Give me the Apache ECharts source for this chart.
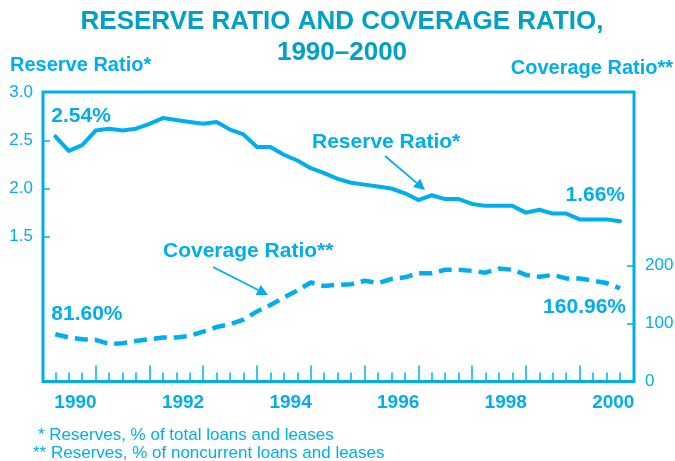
<!DOCTYPE html>
<html>
<head>
<meta charset="utf-8">
<script src="https://cdn.jsdelivr.net/npm/echarts@6/dist/echarts.min.js"></script>
<style>
html,body{margin:0;padding:0;background:#fff;}
#chart{width:675px;height:461px;}
</style>
</head>
<body>
<div id="chart"></div>
<script>
// ---- data ----
const years = ['1990','1991','1992','1993','1994','1995','1996','1997','1998','1999','2000'];
const quarters = [];
years.forEach(function (y) { ['Q1','Q2','Q3','Q4'].forEach(function (q) { quarters.push(y + ' ' + q); }); });
// Reserve ratio (%), quarterly, 1990 Q1 .. 2000 Q3
const reserveRatio = [2.54, 2.39, 2.45, 2.60, 2.62, 2.60, 2.62, 2.67, 2.73, 2.71, 2.69, 2.67,
  2.69, 2.61, 2.56, 2.43, 2.43, 2.35, 2.29, 2.21, 2.16, 2.10, 2.06, 2.04, 2.02, 2.00, 1.95,
  1.88, 1.93, 1.89, 1.89, 1.84, 1.82, 1.82, 1.82, 1.75, 1.78, 1.74, 1.74, 1.68, 1.68, 1.68, 1.66];
// Coverage ratio (%), quarterly
const coverageRatio = [81.60, 76, 73, 72, 65, 66, 70, 73, 76, 76, 79, 86,
  94, 99, 107, 121, 132, 145, 157, 171, 165, 167, 168, 174, 170, 177, 180,
  187, 187, 193, 193, 191, 188, 195, 193, 184, 181, 184, 178, 178, 174, 170, 160.96];
const leftTickLabels = ['1.5', '2.0', '2.5', '3.0'];
const rightTickLabels = ['0', '100', '200'];

const BLUE = '#00AEEF';
const TITLE = '#00A0C8';
const FONT = '"Liberation Sans", Arial, Helvetica, sans-serif';

const chart = echarts.init(document.getElementById('chart'), null, { renderer: 'canvas' });

const lastTick = reserveRatio.length - 1;
const G = { top: 92, height: 289.5 };

const option = {
  animation: false,
  backgroundColor: '#fff',
  grid: [
    { left: 48.58, top: G.top, width: 591.6, height: G.height, outerBoundsMode: 'none' },
    { left: 43, top: G.top, width: 591, height: G.height, show: true, borderColor: BLUE, borderWidth: 3, backgroundColor: 'transparent', outerBoundsMode: 'none' },
    { left: 43, top: G.top, width: 591, height: G.height / 2, outerBoundsMode: 'none' },
    { left: 43, top: 381.5 - G.height * 200 / 500, width: 591, height: G.height * 200 / 500, outerBoundsMode: 'none' }
  ],
  xAxis: [
    { gridIndex: 0, type: 'category', data: quarters, boundaryGap: true, position: 'bottom', offset: 0,
      axisLine: { show: false, onZero: false }, axisLabel: { show: false },
      axisTick: { show: true, inside: true, length: 9, alignWithLabel: true,
        interval: function (i) { return i <= lastTick; },
        lineStyle: { color: BLUE, width: 1.5 } } },
    { gridIndex: 0, type: 'category', data: quarters, boundaryGap: true, position: 'bottom', offset: 0,
      axisLine: { show: false, onZero: false }, axisLabel: { show: false },
      axisTick: { show: true, inside: true, length: 16, alignWithLabel: true,
        interval: function (i) { return i % 4 === 3 && i < 40; },
        lineStyle: { color: BLUE, width: 1.5 } } },
    { gridIndex: 0, type: 'category', data: years, boundaryGap: true, position: 'bottom', offset: 0,
      axisLine: { show: false, onZero: false }, axisTick: { show: false },
      axisLabel: { show: true, interval: 1, margin: 12, color: BLUE, fontSize: 19, fontWeight: 'bold', fontFamily: FONT } },
    { gridIndex: 1, type: 'value', show: false, min: 0, max: 1 },
    { gridIndex: 2, type: 'value', show: false, min: 0, max: 1 },
    { gridIndex: 3, type: 'value', show: false, min: 0, max: 1 }
  ],
  yAxis: [
    { gridIndex: 0, type: 'value', min: 0, max: 3, show: false, axisLine: { onZero: false } },
    { gridIndex: 0, type: 'value', min: 0, max: 500, show: false, position: 'right', axisLine: { onZero: false } },
    { gridIndex: 1, type: 'value', show: false, min: 0, max: 1, axisLine: { onZero: false } },
    { gridIndex: 2, type: 'value', min: 1.5, max: 3.0, interval: 0.5, position: 'left', offset: 0,
      axisLine: { show: false, onZero: false }, splitLine: { show: false },
      axisTick: { show: true, inside: true, length: 7, lineStyle: { color: BLUE, width: 1.5 } },
      axisLabel: { margin: 10, color: BLUE, fontSize: 17, fontFamily: FONT,
        formatter: function (v) { return leftTickLabels[Math.round((v - 1.5) / 0.5)] || ''; } } },
    { gridIndex: 3, type: 'value', min: 0, max: 200, interval: 100, position: 'right', offset: 0,
      axisLine: { show: false, onZero: false }, splitLine: { show: false },
      axisTick: { show: true, inside: true, length: 7, lineStyle: { color: BLUE, width: 1.5 } },
      axisLabel: { margin: 11, color: BLUE, fontSize: 17, fontFamily: FONT,
        formatter: function (v) { return rightTickLabels[Math.round(v / 100)] || ''; } } }
  ],
  series: [
    { name: 'Reserve Ratio*', type: 'line', xAxisIndex: 0, yAxisIndex: 0, data: reserveRatio,
      symbol: 'none', smooth: false,
      lineStyle: { color: BLUE, width: 4, cap: 'round', join: 'round' } },
    { name: 'Coverage Ratio**', type: 'line', xAxisIndex: 0, yAxisIndex: 1, data: coverageRatio,
      symbol: 'none', smooth: false,
      lineStyle: { color: BLUE, width: 4.5, type: [13, 7], cap: 'butt', join: 'round' } }
  ]
};
chart.setOption(option);

// ---- annotations ----
function txt(text, x, y, size, weight, align, color) {
  return { type: 'text', x: x, y: y, silent: true,
    style: { text: text, fill: color || BLUE, fontSize: size, fontWeight: weight, fontFamily: FONT,
      align: align, verticalAlign: 'middle' } };
}
function arrow(x1, y1, x2, y2) {
  const dx = x2 - x1, dy = y2 - y1, len = Math.sqrt(dx * dx + dy * dy);
  const ux = dx / len, uy = dy / len, hl = 11, hw = 5.5;
  const bx = x2 - ux * hl, by = y2 - uy * hl;
  return [
    { type: 'line', silent: true, shape: { x1: x1, y1: y1, x2: bx, y2: by }, style: { stroke: BLUE, lineWidth: 1.8 } },
    { type: 'polygon', silent: true, shape: { points: [[x2, y2], [bx - uy * hw, by + ux * hw], [bx + uy * hw, by - ux * hw]] }, style: { fill: BLUE } }
  ];
}
const n = reserveRatio.length - 1;
const pR0 = chart.convertToPixel({ seriesIndex: 0 }, [0, reserveRatio[0]]);
const pRn = chart.convertToPixel({ seriesIndex: 0 }, [n, reserveRatio[n]]);
const pC0 = chart.convertToPixel({ seriesIndex: 1 }, [0, coverageRatio[0]]);
const pCn = chart.convertToPixel({ seriesIndex: 1 }, [n, coverageRatio[n]]);

let graphics = [
  txt('RESERVE RATIO AND COVERAGE RATIO,', 342, 21.5, 26, 'bold', 'center', TITLE),
  txt('1990\u20132000', 342, 52.5, 26, 'bold', 'center', TITLE),
  txt('Reserve Ratio*', 10, 65, 20, 'bold', 'left'),
  txt('Coverage Ratio**', 673, 68.5, 20, 'bold', 'right'),
  txt(reserveRatio[0].toFixed(2) + '%', pR0[0] - 4, pR0[1] - 20, 21, 'bold', 'left'),
  txt(reserveRatio[n].toFixed(2) + '%', pRn[0] + 5, pRn[1] - 26, 21, 'bold', 'right'),
  txt(coverageRatio[0].toFixed(2) + '%', pC0[0] - 4, pC0[1] - 20, 21, 'bold', 'left'),
  txt(coverageRatio[n].toFixed(2) + '%', pCn[0] + 6, pCn[1] + 19, 21, 'bold', 'right'),
  txt('Reserve Ratio*', 312, 142, 21, 'bold', 'left'),
  txt('Coverage Ratio**', 163, 251, 21, 'bold', 'left'),
  txt('* Reserves, % of total loans and leases', 38, 435, 17, 'normal', 'left'),
  txt('** Reserves, % of noncurrent loans and leases', 33, 453, 17, 'normal', 'left')
];
graphics = graphics.concat(arrow(385, 156, 425, 190), arrow(213, 267, 268, 295));
chart.setOption({ graphic: graphics });
</script>
</body>
</html>
